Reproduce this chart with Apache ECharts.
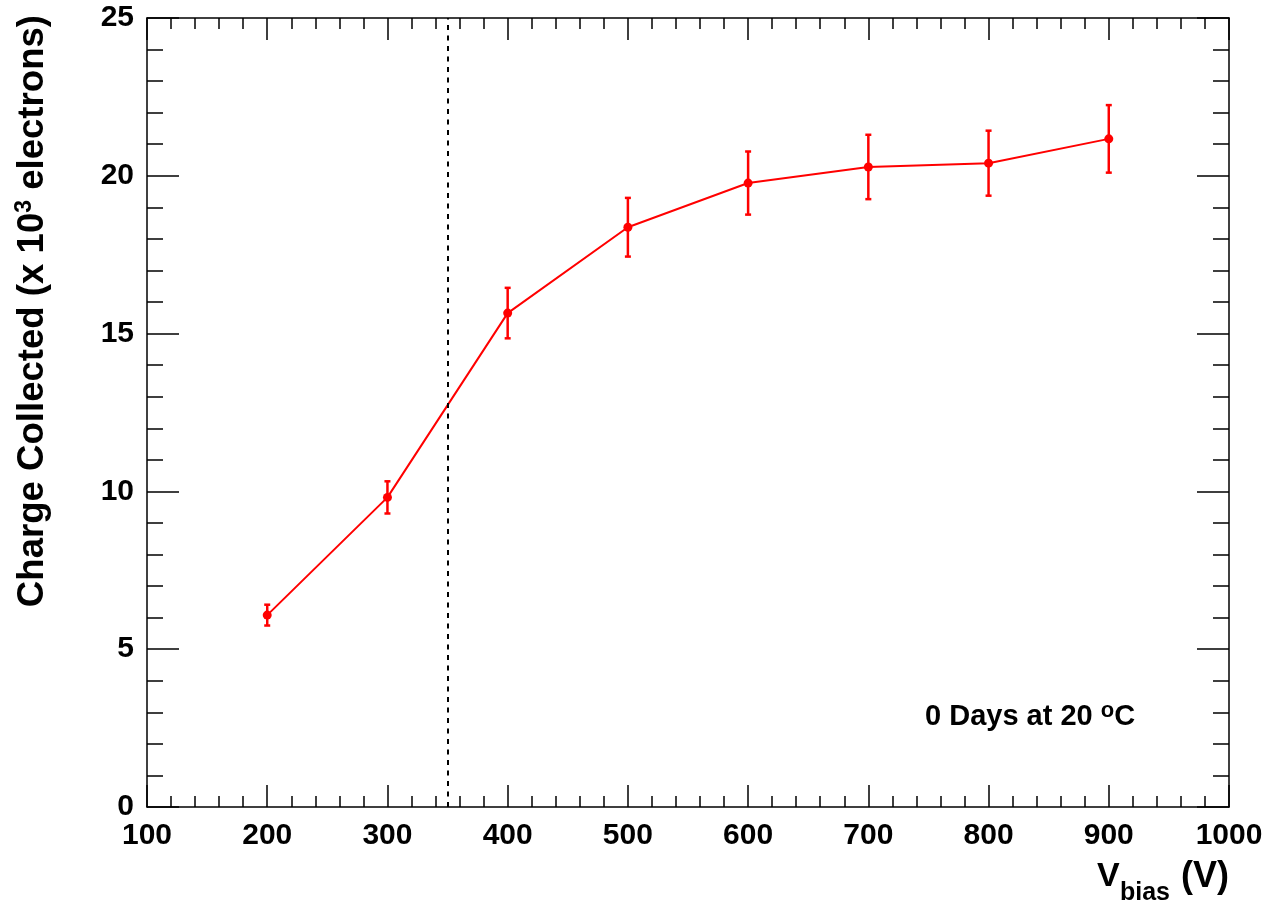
<!DOCTYPE html>
<html>
<head>
<meta charset="utf-8">
<script src="https://cdn.jsdelivr.net/npm/echarts@6/dist/echarts.min.js"></script>
<style>
html,body{margin:0;padding:0;background:#fff;}
#chart{width:1270px;height:906px;}
</style>
</head>
<body>
<div id="chart"></div>
<script>
// ---- data ----
const voltages = [200, 300, 400, 500, 600, 700, 800, 900];
const charge   = [6.08, 9.81, 15.65, 18.37, 19.77, 20.28, 20.40, 21.17];
const errors   = [0.33, 0.51, 0.80, 0.93, 1.00, 1.02, 1.03, 1.07];
const xTickLabels = [100, 200, 300, 400, 500, 600, 700, 800, 900, 1000];
const yTickLabels = [0, 5, 10, 15, 20, 25];
const depletionVoltage = [350];

const FONT = '"Liberation Sans", Arial, Helvetica, sans-serif';
const chart = echarts.init(document.getElementById('chart'), null, {renderer: 'canvas'});

const points = voltages.map((v, i) => [v, charge[i], errors[i]]);

function axisBase(min, max, interval, tickLen, minorLen) {
  return {
    type: 'value', min: min, max: max, interval: interval,
    axisLine: {show: true, onZero: false, lineStyle: {color: '#000', width: 1.5}},
    axisTick: {show: true, inside: true, length: tickLen, lineStyle: {color: '#000', width: 1.5}},
    minorTick: {show: true, splitNumber: 5, length: minorLen, lineStyle: {color: '#000', width: 1.5}},
    splitLine: {show: false}, minorSplitLine: {show: false}
  };
}

const xMin = xTickLabels[0], xMax = xTickLabels[xTickLabels.length - 1];
const xInt = xTickLabels[1] - xTickLabels[0];
const yMin = yTickLabels[0], yMax = yTickLabels[yTickLabels.length - 1];
const yInt = yTickLabels[1] - yTickLabels[0];

const labelStyle = {color: '#000', fontFamily: FONT, fontWeight: 'bold', fontSize: 30,
                    formatter: function (v) { return String(v); }};

const option = {
  animation: false,
  backgroundColor: '#fff',
  grid: {left: 147, right: 41, top: 18, bottom: 99, containLabel: false, outerBoundsMode: 'none'},
  xAxis: [
    Object.assign(axisBase(xMin, xMax, xInt, 22, 11), {
      position: 'bottom',
      axisLabel: Object.assign({show: true, margin: 14}, labelStyle)
    }),
    Object.assign(axisBase(xMin, xMax, xInt, 22, 11), {
      position: 'top', axisLabel: {show: false}
    })
  ],
  yAxis: [
    Object.assign(axisBase(yMin, yMax, yInt, 32, 16), {
      position: 'left',
      axisLabel: Object.assign({show: true, margin: 13}, labelStyle)
    }),
    Object.assign(axisBase(yMin, yMax, yInt, 32, 16), {
      position: 'right', axisLabel: {show: false}
    })
  ],
  series: [
    {
      type: 'line',
      xAxisIndex: 0, yAxisIndex: 0,
      data: points.map(p => [p[0], p[1]]),
      symbol: 'circle', symbolSize: 9,
      itemStyle: {color: '#ff0000'},
      lineStyle: {color: '#ff0000', width: 2},
      z: 3,
      markLine: {
        silent: true,
        symbol: ['none', 'none'],
        label: {show: false},
        lineStyle: {color: '#000', width: 2, type: [5, 5.5]},
        data: depletionVoltage.map(v => ({xAxis: v}))
      }
    },
    {
      type: 'custom',
      xAxisIndex: 0, yAxisIndex: 0,
      data: points,
      z: 2,
      renderItem: function (params, api) {
        const x = api.value(0), y = api.value(1), e = api.value(2);
        const top = api.coord([x, y + e]);
        const bot = api.coord([x, y - e]);
        const cap = 3;
        const st = {stroke: '#ff0000', lineWidth: 2.5};
        return {
          type: 'group',
          children: [
            {type: 'line', shape: {x1: top[0], y1: top[1], x2: bot[0], y2: bot[1]}, style: st},
            {type: 'line', shape: {x1: top[0] - cap, y1: top[1], x2: top[0] + cap, y2: top[1]}, style: st},
            {type: 'line', shape: {x1: bot[0] - cap, y1: bot[1], x2: bot[0] + cap, y2: bot[1]}, style: st}
          ]
        };
      }
    }
  ],
  graphic: [
    {
      type: 'text', x: 33, y: 15, rotation: Math.PI / 2,
      style: {
        text: '{a|Charge Collected (x 10}{s|3}{a| electrons)}',
        align: 'right', verticalAlign: 'middle',
        rich: {
          a: {fontFamily: FONT, fontWeight: 'bold', fontSize: 36.6, lineHeight: 40, fill: '#000'},
          s: {fontFamily: FONT, fontWeight: 'bold', fontSize: 23, lineHeight: 14, verticalAlign: 'top', fill: '#000'}
        }
      }
    },
    {
      type: 'text', x: 925, y: 700,
      style: {
        text: '{a|0 Days at 20 }{s|o}{a|C}',
        align: 'left', verticalAlign: 'top',
        rich: {
          a: {fontFamily: FONT, fontWeight: 'bold', fontSize: 29, lineHeight: 34, fill: '#000'},
          s: {fontFamily: FONT, fontWeight: 'bold', fontSize: 22, lineHeight: 12, verticalAlign: 'top', fill: '#000'}
        }
      }
    },
    {
      type: 'text', x: 1097, y: 877,
      style: {text: 'V', fontFamily: FONT, fontWeight: 'bold', fontSize: 34, fill: '#000', align: 'left', verticalAlign: 'middle'}
    },
    {
      type: 'text', x: 1120, y: 893,
      style: {text: 'bias', fontFamily: FONT, fontWeight: 'bold', fontSize: 25, fill: '#000', align: 'left', verticalAlign: 'middle'}
    },
    {
      type: 'text', x: 1229, y: 877,
      style: {text: '(V)', fontFamily: FONT, fontWeight: 'bold', fontSize: 36, fill: '#000', align: 'right', verticalAlign: 'middle'}
    }
  ]
};

chart.setOption(option);
</script>
</body>
</html>
